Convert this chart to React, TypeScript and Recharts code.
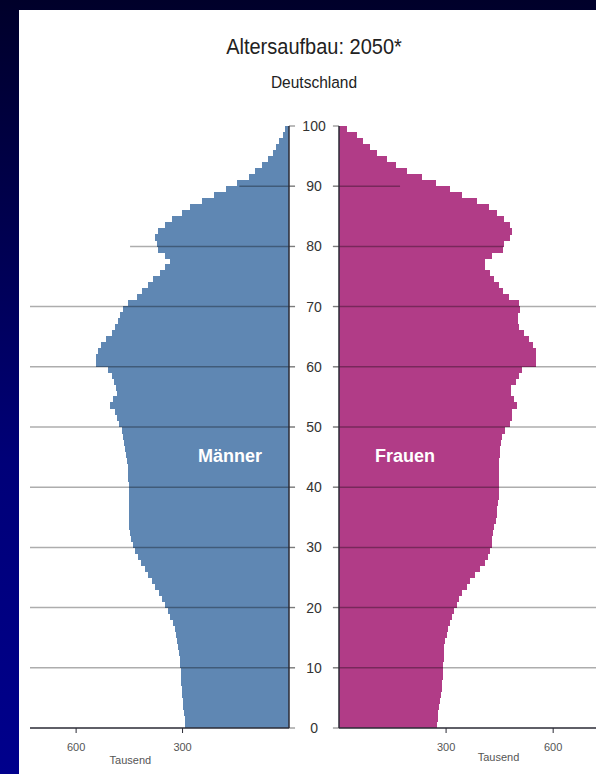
import React from 'react';
import { BarChart, Bar, XAxis, YAxis, ReferenceLine, Label } from 'recharts';

// Age categories (single years)
const ages = [
  0, 1, 2, 3, 4, 5, 6, 7, 8, 9,
  10, 11, 12, 13, 14, 15, 16, 17, 18, 19,
  20, 21, 22, 23, 24, 25, 26, 27, 28, 29,
  30, 31, 32, 33, 34, 35, 36, 37, 38, 39,
  40, 41, 42, 43, 44, 45, 46, 47, 48, 49,
  50, 51, 52, 53, 54, 55, 56, 57, 58, 59,
  60, 61, 62, 63, 64, 65, 66, 67, 68, 69,
  70, 71, 72, 73, 74, 75, 76, 77, 78, 79,
  80, 81, 82, 83, 84, 85, 86, 87, 88, 89,
  90, 91, 92, 93, 94, 95, 96, 97, 98, 99,
];

// Männer, thousands
const maleThousands = [
  291, 293, 295, 297, 298, 300, 301, 302, 302, 304,
  305, 306, 308, 311, 314, 317, 321, 326, 333, 340,
  348, 356, 366, 377, 386, 395, 405, 416, 425, 433,
  438, 443, 447, 449, 450, 450, 450, 450, 450, 450,
  450, 451, 451, 452, 454, 457, 460, 463, 466, 470,
  478, 484, 490, 502, 495, 484, 485, 492, 497, 509,
  542, 542, 538, 528, 515, 497, 488, 481, 476, 466,
  452, 428, 412, 395, 381, 362, 348, 334, 348, 367,
  372, 375, 367, 348, 329, 300, 277, 244, 210, 177,
  144, 111, 94, 75, 59, 45, 35, 26, 16, 9,
];

// Frauen, thousands
const femaleThousands = [
  273, 275, 277, 279, 281, 284, 286, 288, 289, 290,
  291, 292, 293, 294, 296, 300, 304, 310, 316, 322,
  330, 335, 344, 356, 367, 381, 395, 407, 416, 421,
  426, 428, 430, 433, 438, 441, 442, 444, 446, 447,
  447, 447, 447, 447, 448, 450, 450, 453, 456, 465,
  478, 482, 482, 498, 489, 480, 480, 494, 503, 512,
  550, 550, 550, 543, 531, 517, 504, 500, 500, 506,
  503, 475, 459, 447, 433, 421, 409, 407, 428, 459,
  461, 479, 482, 478, 461, 440, 419, 384, 344, 309,
  269, 232, 190, 157, 132, 106, 85, 66, 50, 21,
];

const ageTicks = [0, 10, 20, 30, 40, 50, 60, 70, 80, 90, 100];
const valueTicks = [300, 600];
const fullGridAges = [10, 20, 30, 40, 50, 60, 70];
const leftPartialGrid = [
  { age: 80, to: 448 },
  { age: 90, to: 140 },
];
const rightPartialGrid = [
  { age: 80, to: 461 },
  { age: 90, to: 171 },
];

const rows = ages.map((age, i) => ({ age, male: maleThousands[i], female: femaleThousands[i] }));
const lastAge = ages[ages.length - 1];

// an age boundary "a" is the lower edge of the band of age a (or upper edge of the last band)
const boundary = (a: number) =>
  a > lastAge ? { y: lastAge, position: 'start' as const } : { y: a, position: 'end' as const };

const FONT = '"Liberation Sans", Arial, Helvetica, sans-serif';
const MALE = '#5f87b3';
const FEMALE = '#b13c87';
const AXIS = '#2a2a35';
const gridProps = { stroke: '#000', strokeOpacity: 0.32, strokeWidth: 1.5 };
const TICK_UNITS = 17; // length of the short age tick, in thousands

const ageLabel = (text: number) => (props: any) => {
  const vb = props.viewBox || {};
  return (
    <text
      x={vb.x + vb.width + 19}
      y={vb.y}
      textAnchor="middle"
      dominantBaseline="central"
      fill="#333"
      fontSize={14}
      fontFamily={FONT}
    >
      {text}
    </text>
  );
};

const tausend = (frac: number, dy: number) => (props: any) => {
  const vb = props.viewBox || {};
  return (
    <text x={vb.x + vb.width * frac} y={vb.y + dy} textAnchor="middle" dominantBaseline="central" fill="#555" fontSize={11} fontFamily={FONT}>
      Tausend
    </text>
  );
};

const tickStyle = { fill: '#555', fontSize: 11, fontFamily: FONT };

function gridLines(prefix: string, maxValue: number, partial: { age: number; to: number }[]) {
  const out: any[] = [];
  fullGridAges.forEach((a) => {
    const b = boundary(a);
    out.push(
      <ReferenceLine
        key={prefix + 'g' + a}
        xAxisId="x"
        yAxisId="cat"
        ifOverflow="visible"
        position={b.position}
        segment={[{ x: -TICK_UNITS, y: b.y }, { x: maxValue, y: b.y }]}
        {...gridProps}
      />
    );
  });
  partial.forEach((g) => {
    const b = boundary(g.age);
    out.push(
      <ReferenceLine
        key={prefix + 'p' + g.age}
        xAxisId="x"
        yAxisId="cat"
        ifOverflow="visible"
        position={b.position}
        segment={[{ x: -TICK_UNITS, y: b.y }, { x: g.to, y: b.y }]}
        {...gridProps}
      />
    );
  });
  return out;
}

function ageTickMarks(prefix: string, withLabels: boolean) {
  return ageTicks.map((a) => {
    const b = boundary(a);
    return (
      <ReferenceLine
        key={prefix + 't' + a}
        xAxisId="x"
        yAxisId="cat"
        ifOverflow="visible"
        position={b.position}
        segment={[{ x: -TICK_UNITS, y: b.y }, { x: 0, y: b.y }]}
        stroke="#777"
        strokeWidth={1}
        label={withLabels ? ageLabel(a) : undefined}
      />
    );
  });
}

const textBase: React.CSSProperties = {
  position: 'absolute',
  textAlign: 'center',
  fontFamily: FONT,
  whiteSpace: 'nowrap',
};

export default function App() {
  return (
    <div
      style={{
        position: 'absolute',
        left: 0,
        top: 0,
        width: 596,
        height: 774,
        overflow: 'hidden',
        background: 'linear-gradient(180deg, #00002a 0%, #000050 30%, #000078 60%, #00008c 100%)',
      }}
    >
      <style>{'.recharts-bar-rectangle path { shape-rendering: crispEdges; }'}</style>
      <div style={{ position: 'absolute', left: 19, top: 10, width: 577, height: 764, background: '#fff' }} />

      {/* Männer */}
      <div style={{ position: 'absolute', left: 0, top: 0 }}>
        <BarChart
          width={596}
          height={774}
          data={rows}
          layout="vertical"
          margin={{ top: 126, right: 307, bottom: 0, left: 30 }}
          barCategoryGap={0}
          barGap={0}
        >
          <XAxis
            xAxisId="x"
            type="number"
            domain={[0, 730]}
            allowDataOverflow
            reversed
            ticks={valueTicks}
            height={46}
            tickSize={5}
            tickMargin={10}
            axisLine={{ stroke: AXIS, strokeWidth: 1.5 }}
            tickLine={{ stroke: AXIS }}
            tick={tickStyle}
          >
            <Label content={tausend(1 - 447 / 730, 32)} />
          </XAxis>
          <YAxis yAxisId="cat" type="category" dataKey="age" reversed hide />
          <Bar
            dataKey="male"
            xAxisId="x"
            yAxisId="cat"
            fill={MALE}
            stroke={MALE}
            strokeWidth={1}
            isAnimationActive={false}
          />
          {gridLines('l', 730, leftPartialGrid)}
          {ageTickMarks('l', true)}
          <ReferenceLine xAxisId="x" yAxisId="cat" x={0} stroke={AXIS} strokeWidth={1.5} />
        </BarChart>
      </div>

      {/* Frauen */}
      <div style={{ position: 'absolute', left: 0, top: 0 }}>
        <BarChart
          width={596}
          height={774}
          data={rows}
          layout="vertical"
          margin={{ top: 126, right: 0, bottom: 0, left: 339 }}
          barCategoryGap={0}
          barGap={0}
        >
          <XAxis
            xAxisId="x"
            type="number"
            domain={[0, 720]}
            allowDataOverflow
            ticks={valueTicks}
            height={46}
            tickSize={5}
            tickMargin={10}
            axisLine={{ stroke: AXIS, strokeWidth: 1.5 }}
            tickLine={{ stroke: AXIS }}
            tick={tickStyle}
          >
            <Label content={tausend(447 / 720, 29)} />
          </XAxis>
          <YAxis yAxisId="cat" type="category" dataKey="age" reversed hide />
          <Bar
            dataKey="female"
            xAxisId="x"
            yAxisId="cat"
            fill={FEMALE}
            stroke={FEMALE}
            strokeWidth={1}
            isAnimationActive={false}
          />
          {gridLines('r', 720, rightPartialGrid)}
          {ageTickMarks('r', false)}
          <ReferenceLine xAxisId="x" yAxisId="cat" x={0} stroke={AXIS} strokeWidth={1.5} />
        </BarChart>
      </div>

      <div
        style={{
          ...textBase,
          left: 114,
          width: 400,
          top: 34,
          fontSize: 20,
          color: '#222',
          lineHeight: '24px',
          transform: 'scaleY(1.12)',
        }}
      >
        Altersaufbau: 2050*
      </div>
      <div
        style={{
          ...textBase,
          left: 114,
          width: 400,
          top: 73,
          fontSize: 15.5,
          color: '#222',
          lineHeight: '18px',
          transform: 'scaleY(1.12)',
        }}
      >
        Deutschland
      </div>
      <div
        style={{
          ...textBase,
          left: 130,
          width: 200,
          top: 446,
          fontSize: 18,
          fontWeight: 'bold',
          color: '#fff',
          lineHeight: '20px',
        }}
      >
        Männer
      </div>
      <div
        style={{
          ...textBase,
          left: 305,
          width: 200,
          top: 446,
          fontSize: 18,
          fontWeight: 'bold',
          color: '#fff',
          lineHeight: '20px',
        }}
      >
        Frauen
      </div>
    </div>
  );
}
